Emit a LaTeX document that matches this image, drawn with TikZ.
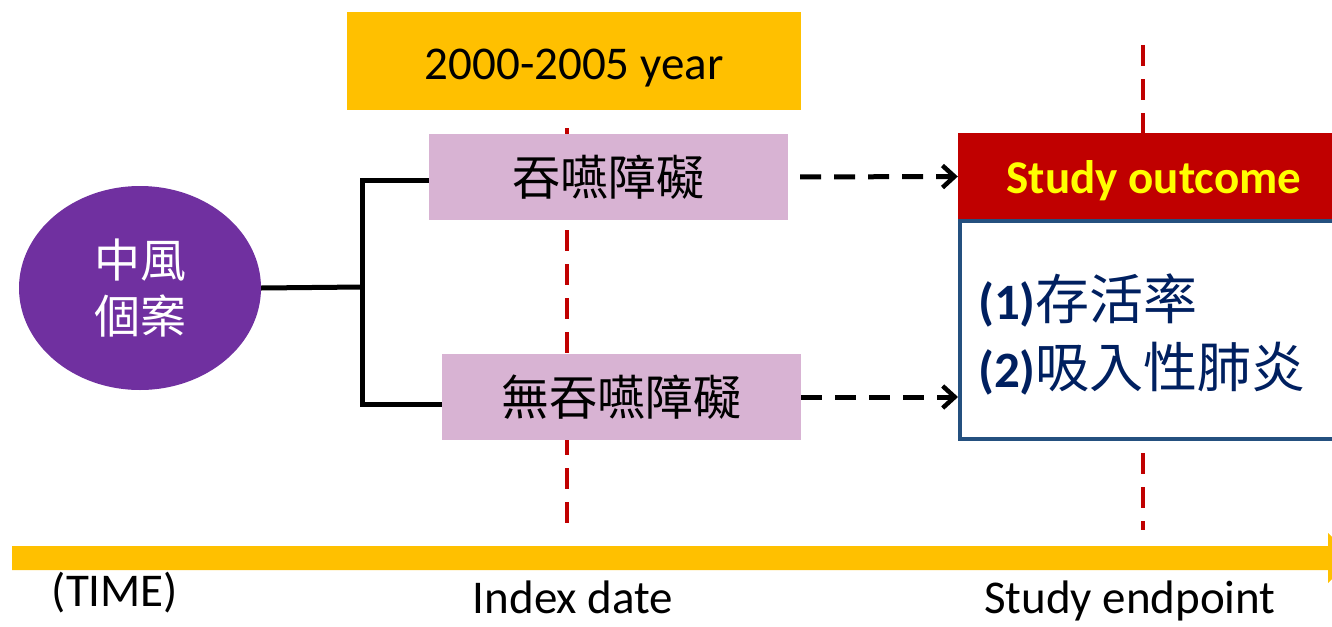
\documentclass[tikz,border=0pt]{standalone}
\usepackage{fontspec}
\setmainfont{Carlito}
\newfontfamily\cjk{Noto Sans CJK TC}
\usetikzlibrary{arrows.meta,shapes.geometric}
\definecolor{gold}{HTML}{FFC000}
\definecolor{darkred}{HTML}{C00000}
\definecolor{pinkbox}{HTML}{D8B3D3}
\definecolor{purp}{HTML}{7030A0}
\definecolor{navy}{HTML}{002060}
\definecolor{bordblue}{HTML}{24507F}
\definecolor{ytext}{HTML}{FFFF00}
\tikzset{
  big/.style={font=\fontsize{47}{56}\selectfont},
  groupbox/.style={fill=pinkbox, minimum width=359pt, minimum height=86pt, inner sep=0pt, font=\cjk\fontsize{48}{56}\selectfont},
  redline/.style={darkred, line width=4.5pt, dash pattern=on 21pt off 13pt},
  blackline/.style={black, line width=5pt},
  dasharr/.style={black, line width=5pt, dash pattern=on 21pt off 13pt, -{Straight Barb[length=12pt,width=22pt,line width=4.5pt]}},
}
\begin{document}
\begin{tikzpicture}[x=1pt,y=-1pt]
\clip (0,0) rectangle (1332,626);
\useasboundingbox (0,0) rectangle (1332,626);

% vertical red dashed lines
\coordinate (i1) at (567,128);
\coordinate (i2) at (567,530);
\coordinate (s1) at (1143,45);
\coordinate (s2) at (1143,530);
\draw[redline] (i1) -- (i2);
\draw[redline] (s1) -- (s2);

% year box
\node[fill=gold, minimum width=454pt, minimum height=98pt, inner sep=0pt] (year) at (574,61) {};
\node[big, inner sep=0pt, anchor=base] (yeartext) at (574,79) {2000-2005 year};

% groups
\node[groupbox] (p1) at (608.5,177) {吞嚥障礙};
\node[groupbox] (p2) at (621.5,397) {無吞嚥障礙};

% stroke ellipse
\node[ellipse, fill=purp, minimum width=242pt, minimum height=204pt, inner sep=0pt, text=white, align=center, font=\cjk\fontsize{46}{56}\selectfont] (e) at (140,288) {中風\\個案};

% bracket
\coordinate (b) at (362,287);
\draw[blackline] (e.east) -- (b);
\draw[blackline, line join=miter] (p1.west |- 0,180) -| (b) |- (p2.west |- 0,404);

% outcome boxes
\node[fill=darkred, minimum width=392pt, minimum height=87pt, inner sep=0pt] (so) at (1154,176.5) {};
\node[text=ytext, inner sep=0pt, anchor=base, font=\bfseries\fontsize{47}{56}\selectfont] (sotext) at (1154,193) {Study outcome};
\node[draw=bordblue, line width=4pt, fill=white, minimum width=392pt, minimum height=218pt, inner sep=0pt] (wb) at (1156,330) {};
\node[anchor=west, align=left, text=navy, inner sep=0pt, font=\cjk\fontsize{54}{68}\selectfont] (out) at (978,334) {{\rmfamily\bfseries\fontsize{51}{68}\selectfont (1)}存活率\\{\rmfamily\bfseries\fontsize{51}{68}\selectfont (2)}吸入性肺炎};

% dashed arrows
\draw[dasharr, shorten <=12pt] (p1.east) -- (so.west);
\draw[dasharr, shorten <=0pt] (p2.east) -- (p2.east -| wb.west);

% time arrow
\fill[gold] (12,546) -- (1328,546) -- (1328,533) -- (1354,558) -- (1328,583) -- (1328,570) -- (12,570) -- cycle;

% labels
\node[big, inner sep=0pt, anchor=base] (time) at (115,606) {(TIME)};
\node[big, inner sep=0pt, anchor=base] (idx) at (573,613) {Index date};
\node[big, inner sep=0pt, anchor=base] (sep) at (1130,613) {Study endpoint};
\end{tikzpicture}
\end{document}
